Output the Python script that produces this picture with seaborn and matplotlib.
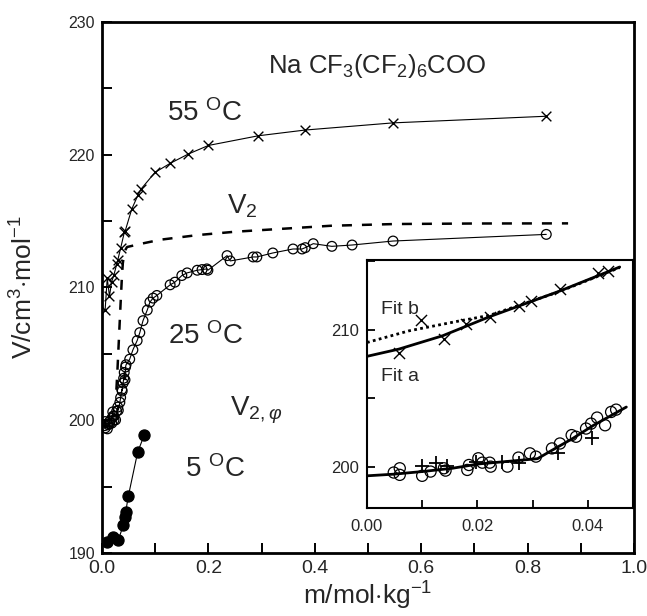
import matplotlib
matplotlib.use("Agg")
import matplotlib.pyplot as plt
from matplotlib.ticker import MultipleLocator
import seaborn as sns

# ---- data ----
# 55 C (crosses)
m55 = [0.0058, 0.0098, 0.014, 0.0179, 0.0223, 0.0275, 0.0298, 0.0349, 0.0419, 0.0437,
       0.0558, 0.068, 0.073, 0.0996, 0.128, 0.162, 0.200, 0.294, 0.3816, 0.547, 0.835]
v55 = [208.31, 210.70, 209.33, 210.41, 210.94, 211.74, 212.1, 212.95, 214.15, 214.28,
       215.9, 217.0, 217.4, 218.67, 219.35, 220.05, 220.7, 221.43, 221.86, 222.4, 222.9]

# 25 C (open circles)
m25 = [0.00485, 0.00594, 0.00594, 0.0100, 0.01152, 0.01394, 0.01424, 0.01818, 0.01848,
       0.02018, 0.02091, 0.02224, 0.02242, 0.02545, 0.02745, 0.02952, 0.03061, 0.03352,
       0.03497, 0.03709, 0.03788, 0.0397, 0.04061, 0.0417, 0.04315, 0.04424, 0.04515,
       0.052, 0.058, 0.066, 0.071, 0.077, 0.085, 0.090, 0.096, 0.103, 0.128, 0.137,
       0.150, 0.160, 0.179, 0.188, 0.197, 0.199, 0.235, 0.241, 0.284, 0.291, 0.321,
       0.359, 0.376, 0.382, 0.397, 0.432, 0.470, 0.547, 0.835]
v25 = [199.59, 199.42, 199.90, 199.35, 199.66, 199.90, 199.73, 199.78, 200.14,
       200.63, 200.31, 200.31, 200.02, 200.02, 200.68, 200.99, 200.75, 201.35,
       201.71, 202.32, 202.20, 202.80, 203.16, 203.60, 203.04, 204.01, 204.18,
       204.6, 205.3, 206.0, 206.6, 207.5, 208.3, 208.9, 209.2, 209.4, 210.2, 210.4,
       210.9, 211.1, 211.3, 211.35, 211.4, 211.3, 212.4, 212.0, 212.3, 212.3, 212.6,
       212.9, 212.9, 213.0, 213.3, 213.1, 213.2, 213.5, 214.0]

# 5 C (filled circles)
m5 = [0.0088, 0.0213, 0.0307, 0.040, 0.043, 0.0445, 0.0495, 0.067, 0.0795]
v5 = [190.85, 191.23, 190.98, 192.1, 192.7, 193.1, 194.3, 197.6, 198.9]

# V2 (dashed)
m_v2 = [0.027, 0.029, 0.031, 0.033, 0.035, 0.037, 0.039, 0.042, 0.047, 0.08, 0.11,
        0.18, 0.25, 0.31, 0.43, 0.55, 0.70, 0.876]
v_v2 = [202.3, 203.8, 205.5, 207.2, 208.9, 210.5, 211.8, 212.7, 213.05, 213.35, 213.6,
        213.95, 214.2, 214.35, 214.65, 214.78, 214.82, 214.83]

# inset: second 25 C set (plus markers)
m_plus = [0.0100, 0.01242, 0.01455, 0.0197, 0.02455, 0.02758, 0.03467, 0.04079]
v_plus = [200.07, 200.27, 200.07, 200.39, 200.39, 200.27, 201.04, 202.13]

# inset fits
m_fita = [0.0, 0.0058, 0.0137, 0.0222, 0.0349, 0.0458]
v_fita = [208.07, 208.6, 209.57, 210.96, 212.83, 214.59]
m_fitb = [0.0, 0.0076, 0.0167, 0.0222, 0.0349, 0.0458]
v_fitb = [209.08, 209.93, 210.65, 211.06, 212.8, 214.55]
m_fit25 = [0.0, 0.00485, 0.0100, 0.01545, 0.0203, 0.02515, 0.0309, 0.0336, 0.0373, 0.0409, 0.0470]
v_fit25 = [199.35, 199.47, 199.66, 199.90, 200.22, 200.39, 200.60, 201.23, 202.08, 203.0, 204.37]

sns.set_theme(style="ticks")
plt.rcParams["font.family"] = ["Liberation Sans", "DejaVu Sans"]
plt.rcParams["mathtext.fontset"] = "custom"
plt.rcParams["mathtext.rm"] = "Liberation Sans"
plt.rcParams["mathtext.it"] = "Liberation Sans:italic"
plt.rcParams["mathtext.sf"] = "Liberation Sans"

fig = plt.figure(figsize=(6.47, 6.16), dpi=100)
ax = fig.add_axes([0.1577, 0.1023, 0.8223, 0.8620])

K = "black"

def series(a, x, y, marker, filled, ms, lw=0.8):
    sns.lineplot(x=x, y=y, ax=a, color=K, lw=lw, sort=False, estimator=None)
    if marker == "o":
        sns.scatterplot(x=x, y=y, ax=a, marker="o", s=ms ** 2,
                        facecolor=K if filled else "none", edgecolor=K,
                        linewidth=0.9, zorder=3)
    else:
        sns.scatterplot(x=x, y=y, ax=a, marker=marker, s=ms ** 2, color=K,
                        linewidth=1.0, zorder=3)

series(ax, m55, v55, "x", False, 7)
series(ax, m25, v25, "o", False, 7)
series(ax, m5, v5, "o", True, 8)
sns.lineplot(x=m_v2, y=v_v2, ax=ax, color=K, lw=1.8, sort=False, estimator=None,
             dashes=False)
ax.lines[-1].set_dashes((4, 4))

ax.set_xlim(0, 1.0)
ax.set_ylim(190, 230)
ax.xaxis.set_major_locator(MultipleLocator(0.2))
ax.xaxis.set_minor_locator(MultipleLocator(0.1))
ax.yaxis.set_major_locator(MultipleLocator(10))
ax.yaxis.set_minor_locator(MultipleLocator(5))
ax.tick_params(which="both", direction="in", length=7, width=1.4, color=K)
ax.tick_params(axis="x", labelsize=14, pad=5)
ax.tick_params(axis="y", labelsize=11.5, pad=5)
ax.xaxis.set_major_formatter(matplotlib.ticker.FormatStrFormatter("%.1f"))
for s in ax.spines.values():
    s.set_visible(True)
    s.set_linewidth(2)
    s.set_color(K)
ax.set_facecolor("white")
ax.set_xlabel(r"m/mol$\cdot$kg$^{-1}$", fontsize=19, labelpad=2)
ax.set_ylabel(r"V/cm$^{3}$$\cdot$mol$^{-1}$", fontsize=19, labelpad=22)

ax.text(0.312, 226.17, r"Na CF$_3$(CF$_2$)$_6$COO", fontsize=18.5, va="baseline")
ax.text(0.122, 222.56, r"55 $^{\mathrm{O}}$C", fontsize=20, va="baseline")
ax.text(0.235, 215.56, r"V$_2$", fontsize=20, va="baseline")
ax.text(0.124, 205.77, r"25 $^{\mathrm{O}}$C", fontsize=20, va="baseline")
ax.text(0.241, 200.38, r"V$_{2,\varphi}$", fontsize=20, va="baseline")
ax.text(0.156, 195.74, r"5 $^{\mathrm{O}}$C", fontsize=20, va="baseline")

# ---- inset ----
ins = fig.add_axes([0.5672, 0.1753, 0.4111, 0.4026])
ins.set_facecolor("white")
sns.scatterplot(x=m55[:10], y=v55[:10], ax=ins, marker="x", s=64, color=K, linewidth=1.0)
sns.scatterplot(x=m25[:27], y=v25[:27], ax=ins, marker="o", s=64, facecolor="none",
                edgecolor=K, linewidth=0.9)
sns.scatterplot(x=m_plus, y=v_plus, ax=ins, marker="+", s=100, color=K, linewidth=1.3)
sns.lineplot(x=m_fita, y=v_fita, ax=ins, color=K, lw=2, sort=False, estimator=None)
sns.lineplot(x=m_fitb, y=v_fitb, ax=ins, color=K, lw=2, sort=False, estimator=None)
ins.lines[-1].set_dashes((1, 1.2))
sns.lineplot(x=m_fit25, y=v_fit25, ax=ins, color=K, lw=2, sort=False, estimator=None)
ins.set_xlim(0, 0.0482)
ins.set_ylim(197.0, 215.1)
ins.xaxis.set_major_locator(MultipleLocator(0.02))
ins.xaxis.set_minor_locator(MultipleLocator(0.01))
ins.yaxis.set_major_locator(MultipleLocator(10))
ins.yaxis.set_minor_locator(MultipleLocator(5))
ins.xaxis.set_major_formatter(matplotlib.ticker.FormatStrFormatter("%.2f"))
ins.tick_params(which="both", direction="in", length=6, width=1.3, color=K, labelsize=12)
ins.tick_params(axis="x", pad=8)
ins.tick_params(axis="y", pad=6)
for s in ins.spines.values():
    s.set_visible(True)
    s.set_linewidth(1.5)
    s.set_color(K)
ins.set_xlabel("")
ins.set_ylabel("")
ins.text(0.00255, 211.14, "Fit b", fontsize=14, va="baseline")
ins.text(0.00255, 206.3, "Fit a", fontsize=14, va="baseline")

fig.savefig("out.png", dpi=100)
